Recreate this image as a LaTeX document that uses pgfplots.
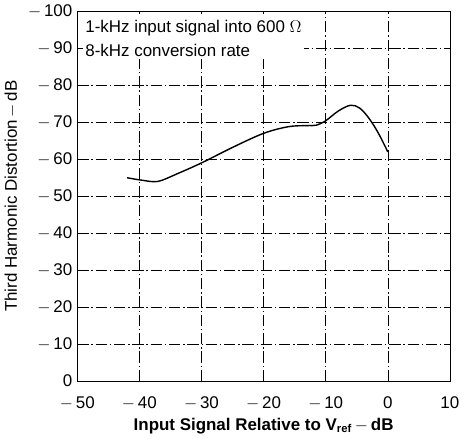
\documentclass[border=0pt]{standalone}
\usepackage{fontspec}
\setmainfont{Liberation Sans}
\usepackage{pgfplots}
\pgfplotsset{compat=1.18}
\begin{document}
\begin{tikzpicture}
\begin{axis}[
    width=264pt, height=262pt, scale only axis,
    xmin=-50, xmax=10, ymin=0, ymax=100,
    xtick={-50,-40,...,10},
    xticklabels={$-$\,50,$-$\,40,$-$\,30,$-$\,20,$-$\,10,0,10},
    ytick={0,10,...,100},
    yticklabels={0,$-$\,10,$-$\,20,$-$\,30,$-$\,40,$-$\,50,$-$\,60,$-$\,70,$-$\,80,$-$\,90,$-$\,100},
    /pgf/number format/assume math mode=true,
    tick style={draw=none},
    grid=major,
    major grid style={black, line width=0.4pt, dash pattern=on 8pt off 2pt on 1pt off 2pt},
    axis line style={black, line width=0.4pt},
    ticklabel style={font=\large},
    xticklabel style={yshift=-7.5pt},
    xlabel={\textbf{Input Signal Relative to V$_{\mathbf{ref}}$\,$-$\,dB}},
    ylabel={Third Harmonic Distortion\,$-$\,dB},
    label style={font=\large},
    xlabel style={yshift=1pt},
]
\addplot[black, line width=1pt, smooth, tension=0.55] coordinates {
    (-42,55) (-39.5,54.3) (-37,54) (-34,56) (-30,59) (-25,63.2) (-20,67)
    (-16,68.8) (-13,69.1) (-11.5,69.2) (-10,70.4) (-8,73) (-6,74.6)
    (-4.5,73.8) (-3,71) (-1.5,67) (0,62)
};
\node[anchor=north west, align=left, font=\large, inner sep=2pt, fill=white]
    at (axis cs:-49.2,98.5) {1-kHz input signal into 600 $\Omega$\\[3pt]8-kHz conversion rate};
\end{axis}
\end{tikzpicture}
\end{document}
